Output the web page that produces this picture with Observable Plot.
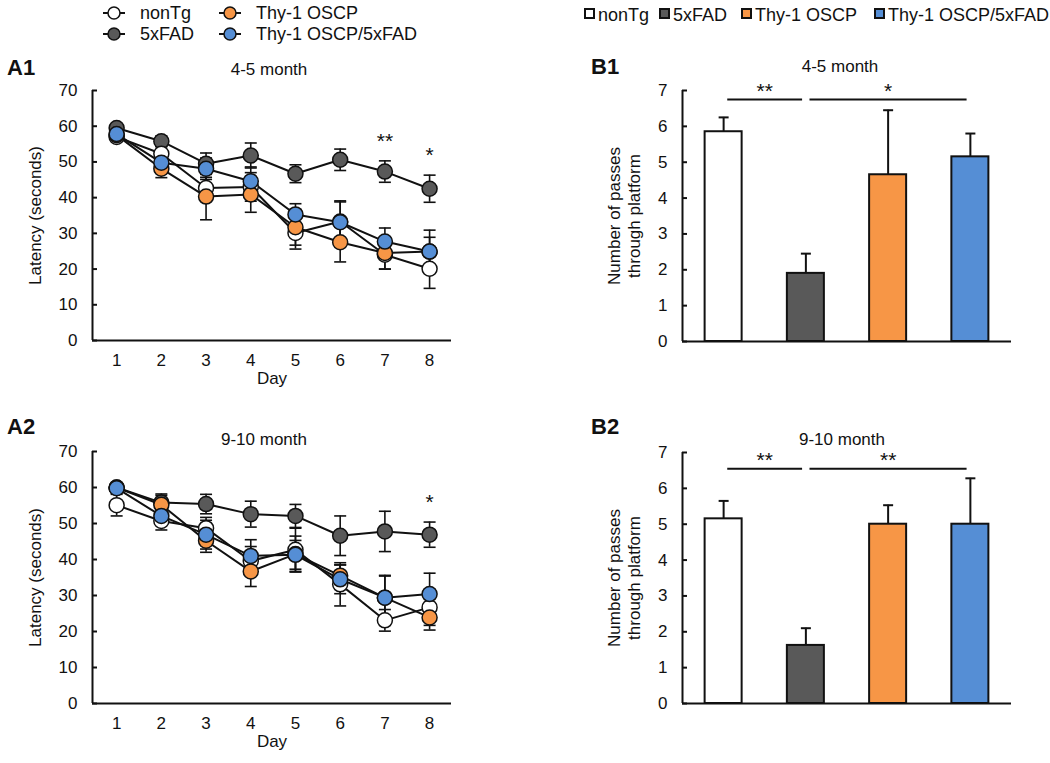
<!DOCTYPE html>
<html><head><meta charset="utf-8">
<script src="https://cdn.jsdelivr.net/npm/d3@7"></script>
<script src="https://cdn.jsdelivr.net/npm/@observablehq/plot@0.6"></script>
<style>
body{margin:0;background:#fff;font-family:Arial,"Liberation Sans",sans-serif;color:#111;}
#root{position:relative;width:1050px;height:763px;overflow:hidden;background:#fff;}
.panel{font-weight:bold;font-size:22px;transform:translateY(-50%);}
.title{font-size:17px;transform:translate(-50%,-50%);white-space:nowrap;}
.leg{font-size:18px;white-space:nowrap;transform:translateY(-50%);}
.box{position:absolute;width:7px;height:7px;border:2px solid #111;}
svg{overflow:visible;}
</style></head><body><div id="root"></div>
<script>
const FONT = 'Arial, "Liberation Sans", sans-serif';
const days = [1, 2, 3, 4, 5, 6, 7, 8];
const groups = ["nonTg", "5xFAD", "Thy-1 OSCP", "Thy-1 OSCP/5xFAD"];
const groupColors = ["#ffffff", "#595959", "#f79646", "#558ed5"];
const drawOrder = [1, 0, 2, 3];

// A1: latency, 4-5 month (mean, SEM)
const lat45_nonTg = [57.0, 52.3, 42.7, 43.0, 30.1, 33.3, 24.0, 20.1];
const lat45_5xFAD = [59.5, 55.8, 49.5, 51.8, 46.7, 50.6, 47.3, 42.5];
const lat45_oscp  = [57.5, 48.1, 40.3, 40.9, 31.7, 27.5, 24.5, 24.9];
const lat45_both  = [57.8, 49.8, 48.1, 44.6, 35.3, 33.1, 27.7, 24.9];
const sem45_nonTg = [1.0, 2.0, 3.0, 4.0, 4.5, 5.5, 4.0, 5.5];
const sem45_5xFAD = [1.0, 1.5, 3.0, 3.5, 2.5, 3.0, 3.0, 3.8];
const sem45_oscp  = [1.0, 2.5, 6.5, 5.0, 5.0, 5.5, 4.5, 4.0];
const sem45_both  = [1.0, 2.0, 3.0, 4.0, 3.0, 6.0, 3.8, 6.0];
const stars45 = [{day: 7, label: "**"}, {day: 8, label: "*"}];

// A2: latency, 9-10 month (mean, SEM)
const lat910_nonTg = [55.1, 50.7, 48.7, 39.6, 42.7, 33.1, 23.1, 26.7];
const lat910_5xFAD = [60.0, 55.8, 55.4, 52.6, 52.1, 46.6, 47.8, 46.9];
const lat910_oscp  = [60.0, 55.2, 45.2, 36.7, 41.5, 35.5, 29.4, 23.9];
const lat910_both  = [59.8, 52.1, 46.9, 41.0, 41.3, 34.5, 29.4, 30.4];
const sem910_nonTg = [3.0, 2.5, 3.0, 4.0, 6.0, 6.0, 3.0, 5.0];
const sem910_5xFAD = [1.0, 2.0, 2.7, 3.6, 3.2, 5.5, 5.6, 3.5];
const sem910_oscp  = [1.0, 3.0, 3.2, 4.2, 5.0, 3.0, 6.0, 3.5];
const sem910_both  = [1.0, 2.0, 4.0, 4.5, 4.0, 4.0, 6.2, 5.8];
const stars910 = [{day: 8, label: "*"}];

// B1 / B2: number of passes through platform (mean, SEM)
const passes45 = [5.85, 1.9, 4.65, 5.15];
const passesSem45 = [0.4, 0.55, 1.8, 0.65];
const passes910 = [5.15, 1.62, 5.0, 5.0];
const passesSem910 = [0.5, 0.48, 0.53, 1.28];
const sig45 = [{from: "nonTg", to: "5xFAD", level: 6.75, label: "**"}, {from: "5xFAD", to: "Thy-1 OSCP/5xFAD", level: 6.75, label: "*"}];
const sig910 = [{from: "nonTg", to: "5xFAD", level: 6.55, label: "**"}, {from: "5xFAD", to: "Thy-1 OSCP/5xFAD", level: 6.55, label: "**"}];

const capSymbol = {draw(ctx, size) { const w = Math.sqrt(size / Math.PI); ctx.moveTo(-w, 0); ctx.lineTo(w, 0); }};
const INK = "#111";

function latencyChart(means, sems, stars, frameH) {
  const rows = [];
  drawOrder.forEach(gi => days.forEach((d, i) => rows.push({group: groups[gi], day: d, mean: means[gi][i], sem: sems[gi][i]})));
  const fad = means[1], fadSem = sems[1];
  const starRows = stars.map(s => ({...s, top: fad[days.indexOf(s.day)] + fadSem[days.indexOf(s.day)]}));
  const W = 470, ml = 92, mr = 19;
  const xDomain = [0.46, 8.49];
  const yTicks = d3.range(0, 71, 10);
  return Plot.plot({
    width: W, height: 10 + frameH + 60,
    marginTop: 10, marginBottom: 60, marginLeft: ml, marginRight: mr,
    style: {fontFamily: FONT, fontSize: "17px", color: INK, background: "transparent"},
    x: {domain: xDomain},
    y: {domain: [0, 70]},
    color: {domain: groups, range: groupColors},
    marks: [
      Plot.ruleY(yTicks, {stroke: INK, strokeWidth: 2, insetRight: W - ml - mr - 5}),
      Plot.axisY(yTicks, {tickSize: 0, tickPadding: 15, label: null, fontSize: 17}),
      Plot.axisX(days, {tickSize: 0, tickPadding: 13, label: null, fontSize: 17}),
      Plot.text(["Latency (seconds)"], {frameAnchor: "left", textAnchor: "middle", rotate: -90, dx: -57, fontSize: 17}),
      Plot.text(["Day"], {frameAnchor: "bottom", textAnchor: "middle", dy: 43, fontSize: 17}),
      Plot.ruleX([xDomain[0]], {stroke: INK, strokeWidth: 2}),
      Plot.ruleY([0], {stroke: INK, strokeWidth: 2}),
      Plot.ruleX(rows, {x: "day", y1: d => d.mean - d.sem, y2: d => d.mean + d.sem, stroke: INK, strokeWidth: 1.6}),
      Plot.dot(rows, {x: "day", y: d => d.mean + d.sem, symbol: capSymbol, r: 6, stroke: INK, strokeWidth: 1.6}),
      Plot.dot(rows, {x: "day", y: d => d.mean - d.sem, symbol: capSymbol, r: 6, stroke: INK, strokeWidth: 1.6}),
      Plot.line(rows, {x: "day", y: "mean", z: "group", stroke: INK, strokeWidth: 2}),
      Plot.dot(rows, {x: "day", y: "mean", fill: "group", stroke: INK, strokeWidth: 1.5, r: 7.5}),
      Plot.text(starRows, {x: "day", y: "top", text: "label", dy: -20, fontSize: 21})
    ]
  });
}

function passesChart(means, sems, sig, frameH) {
  const pos = g => groups.indexOf(g) + 1;
  const rows = groups.map((g, i) => ({group: g, pos: i + 1, mean: means[i], sem: sems[i]}));
  const W = 451, ml = 102, mr = 20;
  const xDomain = [0.5, 4.5];
  const half = 0.225;
  const yTicks = d3.range(0, 8, 1);
  return Plot.plot({
    width: W, height: 10 + frameH + 20,
    marginTop: 10, marginBottom: 20, marginLeft: ml, marginRight: mr,
    style: {fontFamily: FONT, fontSize: "17px", color: INK, background: "transparent"},
    x: {domain: xDomain, axis: null},
    y: {domain: [0, 7]},
    color: {domain: groups, range: groupColors},
    marks: [
      Plot.ruleY(yTicks, {stroke: INK, strokeWidth: 2, insetRight: W - ml - mr - 5}),
      Plot.axisY(yTicks, {tickSize: 0, tickPadding: 15, label: null, fontSize: 17}),
      Plot.text(["Number of passes\nthrough platform"], {frameAnchor: "left", textAnchor: "middle", lineAnchor: "middle", rotate: -90, dx: -59, fontSize: 17, lineHeight: 1.15}),
      Plot.ruleX(rows, {x: "pos", y1: "mean", y2: d => d.mean + d.sem, stroke: INK, strokeWidth: 2}),
      Plot.dot(rows, {x: "pos", y: d => d.mean + d.sem, symbol: capSymbol, r: 5, stroke: INK, strokeWidth: 2}),
      Plot.rectY(rows, {x1: d => d.pos - half, x2: d => d.pos + half, y1: 0, y2: "mean", fill: "group", stroke: INK, strokeWidth: 2}),
      Plot.ruleX([xDomain[0]], {stroke: INK, strokeWidth: 2}),
      Plot.ruleY([0], {stroke: INK, strokeWidth: 2}),
      Plot.ruleY(sig, {y: "level", x1: d => pos(d.from) + 0.05, x2: d => pos(d.to) - 0.04, stroke: INK, strokeWidth: 2}),
      Plot.text(sig, {x: d => (pos(d.from) + pos(d.to)) / 2, y: "level", text: "label", dy: -8, fontSize: 21})
    ]
  });
}

const root = document.getElementById("root");
function place(el, left, top) { el.style.position = "absolute"; el.style.left = left + "px"; el.style.top = top + "px"; root.appendChild(el); return el; }
function div(cls, text, left, top) { const e = document.createElement("div"); e.className = cls; e.textContent = text; return place(e, left, top); }

place(latencyChart([lat45_nonTg, lat45_5xFAD, lat45_oscp, lat45_both], [sem45_nonTg, sem45_5xFAD, sem45_oscp, sem45_both], stars45, 250), 0, 80);
place(latencyChart([lat910_nonTg, lat910_5xFAD, lat910_oscp, lat910_both], [sem910_nonTg, sem910_5xFAD, sem910_oscp, sem910_both], stars910, 252), 0, 441);
place(passesChart(passes45, passesSem45, sig45, 251), 580, 80);
place(passesChart(passes910, passesSem910, sig910, 251), 580, 442);

// panel labels and titles
div("panel", "A1", 7, 68);
div("panel", "A2", 7, 427);
div("panel", "B1", 591, 67);
div("panel", "B2", 591, 427);
div("title", "4-5 month", 269, 70);
div("title", "9-10 month", 264, 440);
div("title", "4-5 month", 840, 67);
div("title", "9-10 month", 842, 440);

// line legend (top-left)
const lineLeg = [{g: 0, x: 103, y: 13}, {g: 1, x: 103, y: 34}, {g: 2, x: 219, y: 13}, {g: 3, x: 219, y: 34}];
lineLeg.forEach(({g, x, y}) => {
  const s = document.createElementNS("http://www.w3.org/2000/svg", "svg");
  s.setAttribute("width", 22); s.setAttribute("height", 16);
  s.innerHTML = `<line x1="0" y1="8" x2="22" y2="8" stroke="${INK}" stroke-width="2"/><circle cx="11" cy="8" r="6" fill="${groupColors[g]}" stroke="${INK}" stroke-width="1.5"/>`;
  place(s, x, y - 8);
  div("leg", groups[g], x + 37, y);
});

// bar legend (top-right)
const barLeg = [{g: 0, x: 584, tx: 598}, {g: 1, x: 659, tx: 673}, {g: 2, x: 741, tx: 755}, {g: 3, x: 874, tx: 888}];
barLeg.forEach(({g, x, tx}) => {
  const b = document.createElement("div"); b.className = "box"; b.style.background = groupColors[g];
  place(b, x, 8);
  div("leg", groups[g], tx, 15);
});
</script></body></html>
